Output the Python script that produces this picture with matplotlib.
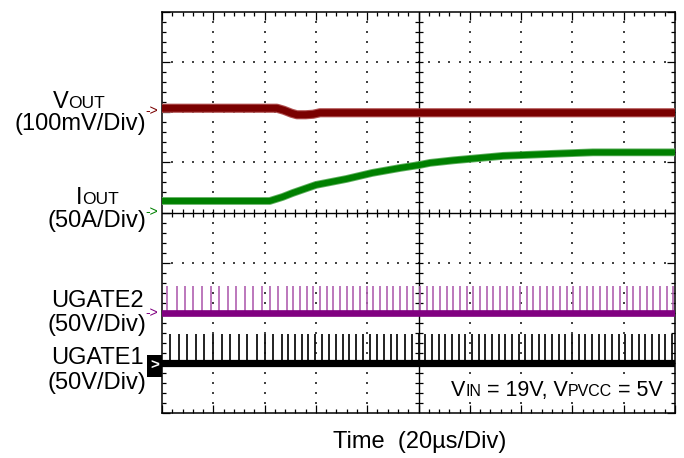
import numpy as np
import matplotlib
matplotlib.use("Agg")
from matplotlib import pyplot as plt
from matplotlib.patches import Rectangle

plt.rcParams['font.family'] = ['Liberation Sans', 'DejaVu Sans']

W, H = 684, 458

# time in us (20us/div), amplitude in divisions from the bottom edge
vout_t = [0, 44.8, 47.5, 50.5, 52.6, 56.0, 58.9, 61.6, 200]
vout_y = [6.08, 6.08, 6.04, 5.98, 5.95, 5.95, 5.96, 5.99, 5.99]

iout_t = [0, 42.0, 47.0, 51.0, 60.0, 72.0, 82.0, 93.0, 100.6, 104.5, 113.5, 133.0, 152.0, 168.0, 200]
iout_y = [4.23, 4.23, 4.31, 4.39, 4.55, 4.67, 4.79, 4.89, 4.95, 4.99, 5.04, 5.13, 5.17, 5.20, 5.20]

ugate2_base = 2.0
ugate2_top = 2.54
ugate2_t = [2.1, 5.7, 9.0, 12.2, 15.7, 19.0, 22.3, 25.6, 28.9, 32.4, 35.6, 38.9, 42.1, 45.3,
            48.6, 51.2, 53.8, 56.4, 59.0, 61.6, 64.2, 66.8, 69.4, 72.0, 74.6, 77.2, 79.8,
            82.4, 85.0, 87.6, 90.2, 92.8, 95.4, 98.0, 100.6, 103.2, 105.8, 108.4, 111.0,
            113.6, 116.2, 118.8, 121.4, 124.0, 126.6, 129.2, 131.8, 134.4, 137.0, 139.6,
            142.2, 144.8, 147.4, 150.0, 152.6, 155.2, 157.8, 160.4, 163.0, 165.6, 168.2,
            170.8, 173.4, 176.0, 178.6, 181.2, 183.8, 186.4, 189.0, 191.6, 194.2, 196.8, 199.4]

ugate1_base = 1.0
ugate1_top = 1.58
ugate1_t = [3.1, 6.6, 9.9, 13.1, 16.5, 19.8, 23.3, 26.5, 30.0, 33.3, 36.9, 40.2, 43.4, 46.7,
            49.2, 51.9, 54.5, 57.0, 59.7, 62.5, 65.1, 67.7, 70.5, 73.0, 75.6, 78.5, 81.1,
            83.7, 86.6, 89.2, 91.7, 94.7, 97.4, 100.0, 102.6, 105.2, 107.8, 110.4, 113.0,
            115.6, 118.2, 120.8, 123.4, 126.0, 128.6, 131.2, 133.8, 136.4, 139.0, 141.6,
            144.2, 146.8, 149.4, 152.0, 154.6, 157.2, 159.8, 162.4, 165.0, 167.6, 170.2,
            172.8, 175.4, 178.0, 180.6, 183.2, 185.8, 188.4, 191.0, 193.6, 196.2, 198.8]

fig = plt.figure(figsize=(W / 100, H / 100), dpi=100)
ax = fig.add_axes([162 / W, (H - 413) / H, 513 / W, 401 / H])
ax.set_xlim(0, 200)
ax.set_ylim(0, 8)

# graticule
for s in ax.spines.values():
    s.set_linewidth(1.1)
ax.set_xticks(np.arange(0, 201, 20))
ax.set_xticks(np.arange(0, 201, 4), minor=True)
ax.set_yticks(np.arange(0, 9, 1))
ax.set_yticks(np.arange(0, 8.01, 0.2), minor=True)
ax.tick_params(which='both', direction='in', top=True, right=True,
               labelbottom=False, labelleft=False, width=0.9)
ax.tick_params(which='major', length=6)
ax.tick_params(which='minor', length=3)

dot = dict(s=1.0, marker='s', color='#444444', linewidths=0, zorder=1)
for gx in range(20, 200, 20):
    if gx == 100:
        continue
    yy = np.arange(0.2, 8, 0.2)
    ax.scatter(np.full(len(yy), gx), yy, **dot)
for gy in range(1, 8):
    if gy == 4:
        continue
    xx = np.arange(4, 200, 4)
    ax.scatter(xx, np.full(len(xx), gy), **dot)

ax.axvline(100, color='black', lw=1.0, zorder=1)
ax.axhline(4, color='black', lw=1.0, zorder=1)
ym = np.arange(0.2, 8, 0.2)
ax.plot(np.full(len(ym), 100), ym, ls='none', marker='_', ms=6, mew=0.9, color='black', zorder=1)
xm = np.arange(4, 200, 4)
ax.plot(xm, np.full(len(xm), 4), ls='none', marker='|', ms=6, mew=0.9, color='black', zorder=1)

# traces
ax.plot(vout_t, vout_y, color='#b05050', lw=6.6, solid_capstyle='butt', zorder=3)
ax.plot(vout_t, vout_y, color='#7a0000', lw=5.0, solid_capstyle='butt', zorder=4)
ax.plot(iout_t, iout_y, color='#60b060', lw=5.6, solid_capstyle='butt', zorder=3)
ax.plot(iout_t, iout_y, color='#008000', lw=4.3, solid_capstyle='butt', zorder=4)

ax.vlines(ugate2_t, ugate2_base, ugate2_top, color='#b060b0', lw=1.2, zorder=3)
ax.axhline(ugate2_base, color='#800080', lw=4.8, zorder=4)
ax.vlines(ugate1_t, ugate1_base, ugate1_top, color='#101010', lw=1.3, zorder=3)
ax.axhline(ugate1_base, color='black', lw=5.2, zorder=4)


def put_runs(x, y, runs, ha='left', color='black'):
    # runs of (text, size) placed on one baseline, x/y in image pixels
    r = fig.canvas.get_renderer()
    texts = []
    for s, size in runs:
        t = fig.text(0, 0, s, fontsize=size, color=color, va='baseline', ha='left', zorder=5)
        texts.append(t)
    widths = [t.get_window_extent(r).width for t in texts]
    total = sum(widths)
    if ha == 'center':
        x0 = x - total / 2
    elif ha == 'right':
        x0 = x - total
    else:
        x0 = x
    for t, w in zip(texts, widths):
        t.set_position((x0 / W, 1 - y / H))
        x0 += w


BIG, SMALL = 17, 12.5
put_runs(79, 108, [('V', BIG), ('OUT', SMALL)], ha='center')
put_runs(146, 130, [('(100mV/Div)', BIG)], ha='right')
put_runs(97, 204, [('I', BIG), ('OUT', SMALL)], ha='center')
put_runs(146, 227, [('(50A/Div)', BIG)], ha='right')
put_runs(97, 307, [('UGATE2', BIG)], ha='center')
put_runs(146, 331, [('(50V/Div)', BIG)], ha='right')
put_runs(97, 364, [('UGATE1', BIG)], ha='center')
put_runs(146, 389, [('(50V/Div)', BIG)], ha='right')

put_runs(420, 448, [('Time  (20µs/Div)', 17)], ha='center')

# white patch behind the condition note inside the graticule
fig.patches.append(Rectangle((438 / W, 1 - 402 / H), 228 / W, 25 / H, transform=fig.transFigure,
                             facecolor='white', edgecolor='none', zorder=3))
put_runs(663, 396, [('V', 15.5), ('IN', 11.5), (' = 19V, V', 15.5), ('PVCC', 11.5), (' = 5V', 15.5)],
         ha='right')

# channel markers
for py, c in [(111, '#7a0000'), (212, '#008000'), (313, '#800080')]:
    fig.text(152 / W, 1 - py / H, '->', color=c, fontsize=10, ha='center', va='center')
fig.patches.append(Rectangle((147 / W, 1 - 377 / H), 15 / W, 22 / H, transform=fig.transFigure,
                             facecolor='black', edgecolor='none'))
fig.text(154.5 / W, 1 - 366 / H, '>', color='white', fontsize=11, fontweight='bold',
         ha='center', va='center')

fig.savefig('out.png', dpi=100)
